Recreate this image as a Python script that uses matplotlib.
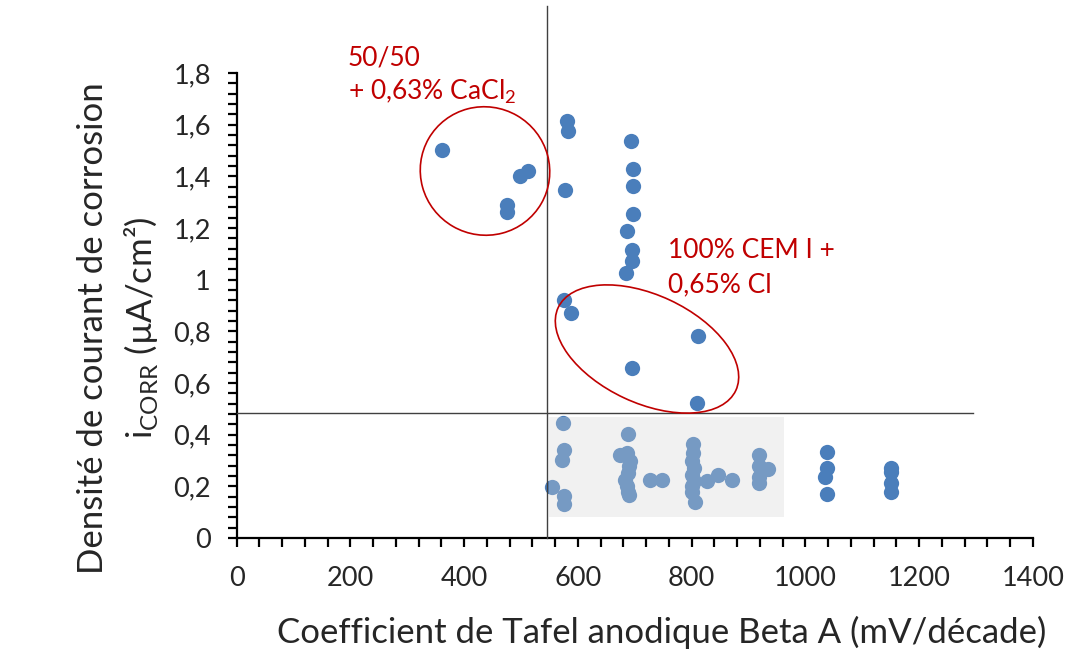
import matplotlib
matplotlib.use("Agg")
import matplotlib.pyplot as plt
from matplotlib.patches import Ellipse, Rectangle
from matplotlib.transforms import IdentityTransform
from matplotlib.ticker import MultipleLocator, FuncFormatter

plt.rcParams['font.family'] = ['Lato', 'DejaVu Sans']

# Tafel anodic coefficient Beta A (mV/decade) and corrosion current density (uA/cm2)
beta_a = [361, 513, 498, 475, 475,
          581, 583, 578, 576, 588,
          694, 697, 697, 697, 687, 695, 695, 685, 695,
          812, 810,
          1038, 1038, 1035, 1038,
          1150, 1150, 1150, 1150,
          574, 576, 572, 555, 576, 576,
          689, 674, 686, 690, 688, 683, 686, 688, 690, 692,
          727, 748,
          803, 803, 801, 800, 801, 800, 806, 805, 804,
          827, 847, 871,
          918, 918, 918, 918, 935]
i_corr = [1.50, 1.42, 1.40, 1.29, 1.26,
          1.615, 1.576, 1.349, 0.921, 0.870,
          1.537, 1.428, 1.362, 1.253, 1.189, 1.113, 1.072, 1.025, 0.657,
          0.783, 0.521,
          0.332, 0.271, 0.238, 0.171,
          0.271, 0.255, 0.213, 0.180,
          0.446, 0.342, 0.303, 0.196, 0.161, 0.131,
          0.404, 0.323, 0.329, 0.277, 0.250, 0.226, 0.200, 0.180, 0.167, 0.300,
          0.223, 0.223,
          0.362, 0.329, 0.297, 0.245, 0.200, 0.180, 0.141, 0.270, 0.220,
          0.219, 0.245, 0.223,
          0.323, 0.278, 0.238, 0.213, 0.267]

x_ticks = [0, 200, 400, 600, 800, 1000, 1200, 1400]
y_ticks = [0, 0.2, 0.4, 0.6, 0.8, 1.0, 1.2, 1.4, 1.6, 1.8]

# reference thresholds and highlighted zone
beta_threshold = 546
icorr_threshold = 0.482
zone_x = (550, 963)
zone_y = (0.083, 0.469)

W, H = 1073, 650
fig = plt.figure(figsize=(W / 100, H / 100), dpi=100)
ax = fig.add_axes([236.5 / W, 1 - 538 / H, (1033 - 236.5) / W, (538 - 73) / H])

ax.plot(beta_a, i_corr, 'o', color='#4a7ebb', markersize=11, markeredgewidth=0, zorder=3)

ax.add_patch(Rectangle((zone_x[0], zone_y[0]), zone_x[1] - zone_x[0], zone_y[1] - zone_y[0],
                       facecolor=(214 / 255, 214 / 255, 214 / 255), alpha=0.32,
                       edgecolor='none', zorder=4))

ax.plot([beta_threshold, beta_threshold], [0, 2.06], color='#404040', lw=1, clip_on=False, zorder=5)
ax.plot([0, 1295], [icorr_threshold, icorr_threshold], color='#404040', lw=1, clip_on=False, zorder=5)

ax.set_xlim(0, 1400)
ax.set_ylim(0, 1.8)
ax.set_xticks(x_ticks)
ax.set_yticks(y_ticks)
ax.xaxis.set_minor_locator(MultipleLocator(40))
ax.yaxis.set_minor_locator(MultipleLocator(0.04))

fmt = FuncFormatter(lambda v, p: ('%g' % round(v, 2)).replace('.', ','))
ax.yaxis.set_major_formatter(fmt)
ax.xaxis.set_major_formatter(FuncFormatter(lambda v, p: '%d' % v))

for s in ['top', 'right']:
    ax.spines[s].set_visible(False)
for s in ['left', 'bottom']:
    ax.spines[s].set_linewidth(1.6)
    ax.spines[s].set_color('black')

ax.tick_params(axis='both', which='both', direction='out', length=6.5, width=1.6, color='black')
ax.tick_params(axis='x', which='major', labelsize=19.5, pad=14, labelcolor='#262626')
ax.tick_params(axis='y', which='major', labelsize=19.5, pad=12, labelcolor='#262626')

# axis titles
fig.text(662 / W, 1 - 632 / H, 'Coefficient de Tafel anodique Beta A (mV/décade)',
         ha='center', va='center', fontsize=25, color='#262626')
fig.text(93 / W, 1 - 328 / H, 'Densité de courant de corrosion',
         ha='center', va='center', rotation=90, fontsize=25, color='#262626')
fig.text(141 / W, 1 - 328 / H, r'i$_{\mathregular{CORR}}$ (µA/cm²)',
         ha='center', va='center', rotation=90, fontsize=25, color='#262626')

# annotations
red = '#c00000'
fig.text(348 / W, 1 - 58 / H, '50/50', ha='left', va='center', fontsize=19, color=red)
fig.text(348 / W, 1 - 92 / H, r'+ 0,63% CaCl$_{\mathregular{2}}$', ha='left', va='center', fontsize=19, color=red)
fig.text(668 / W, 1 - 250 / H, '100% CEM I +', ha='left', va='center', fontsize=19, color=red)
fig.text(668 / W, 1 - 285 / H, '0,65% Cl', ha='left', va='center', fontsize=19, color=red)

fig.add_artist(Ellipse((485, H - 171), 130, 128, angle=-30, fill=False, edgecolor=red, lw=1.2,
                       transform=IdentityTransform()))
fig.add_artist(Ellipse((647, H - 349), 196, 108, angle=-25, fill=False, edgecolor=red, lw=1.2,
                       transform=IdentityTransform()))

fig.savefig('out.png', dpi=100)
